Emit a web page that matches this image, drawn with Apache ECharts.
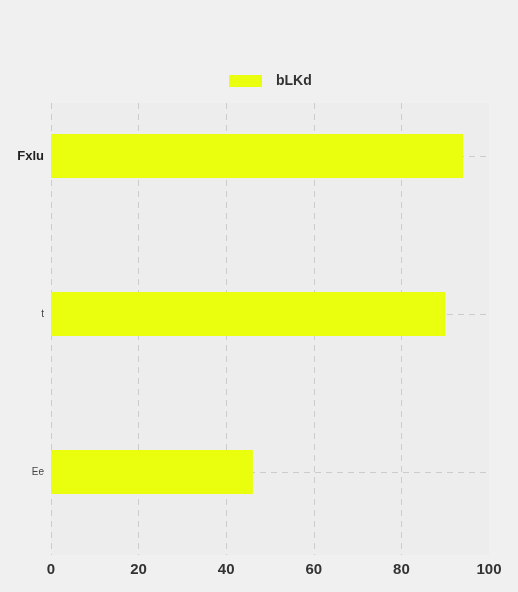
<!DOCTYPE html>
<html><head><meta charset="utf-8">
<script src="https://cdn.jsdelivr.net/npm/echarts@6/dist/echarts.min.js"></script>
<style>html,body{margin:0;padding:0;background:#f0f0f0;}#c{width:518px;height:592px;}</style>
</head><body><div id="c"></div>
<script>
const categories = ['Ee', 't', 'Fxlu'];
const seriesName = 'bLKd';
const values = [46.1, 90.0, 94.1];
const xTicks = [0, 20, 40, 60, 80, 100];

const labelStyles = { Ee: 'small', t: 'small', Fxlu: 'big' };
const chart = echarts.init(document.getElementById('c'));
chart.setOption({
  backgroundColor: '#f0f0f0',
  textStyle: { fontFamily: 'Liberation Sans' },
  legend: {
    left: 224, top: 69, itemWidth: 33, itemHeight: 12,
    icon: 'rect',
    textStyle: { fontSize: 14, fontWeight: 'bold', color: '#333', padding: [0, 0, 0, 9] },
    data: [seriesName]
  },
  grid: [
    { left: 51, right: 29, top: 77, bottom: 41, show: false },
    { left: 51, right: 29, top: 103, bottom: 37, show: true, backgroundColor: '#ededed', borderWidth: 0, z: 0 }
  ],
  xAxis: [
    { gridIndex: 0, type: 'value', min: 0, max: 100, interval: 20, show: false },
    { gridIndex: 1, type: 'value', min: xTicks[0], max: xTicks[xTicks.length - 1], interval: 20,
      axisLine: { show: false }, axisTick: { show: false },
      axisLabel: { fontSize: 15, fontWeight: 'bold', color: '#333', margin: 7 },
      splitLine: { show: true, showMaxLine: false, lineStyle: { color: '#cccccc', type: [6, 5], width: 1 } } }
  ],
  yAxis: [
    { gridIndex: 0, type: 'category', data: categories,
      axisLine: { show: false }, axisTick: { show: false },
      axisLabel: { margin: 7, formatter: v => '{' + labelStyles[v] + '|' + v + '}',
        rich: { big: { fontSize: 13, fontWeight: 'bold', color: '#222' },
                small: { fontSize: 10, color: '#444' } } },
      splitLine: { show: true, alignWithLabel: true, lineStyle: { color: '#cccccc', type: [6, 5], width: 1 } } },
    { gridIndex: 1, type: 'value', show: false, splitLine: { show: false } }
  ],
  series: [{
    name: seriesName, type: 'bar', xAxisIndex: 0, yAxisIndex: 0,
    data: values, barWidth: 44,
    itemStyle: { color: '#eaff0e' }
  }]
});
</script></body></html>
